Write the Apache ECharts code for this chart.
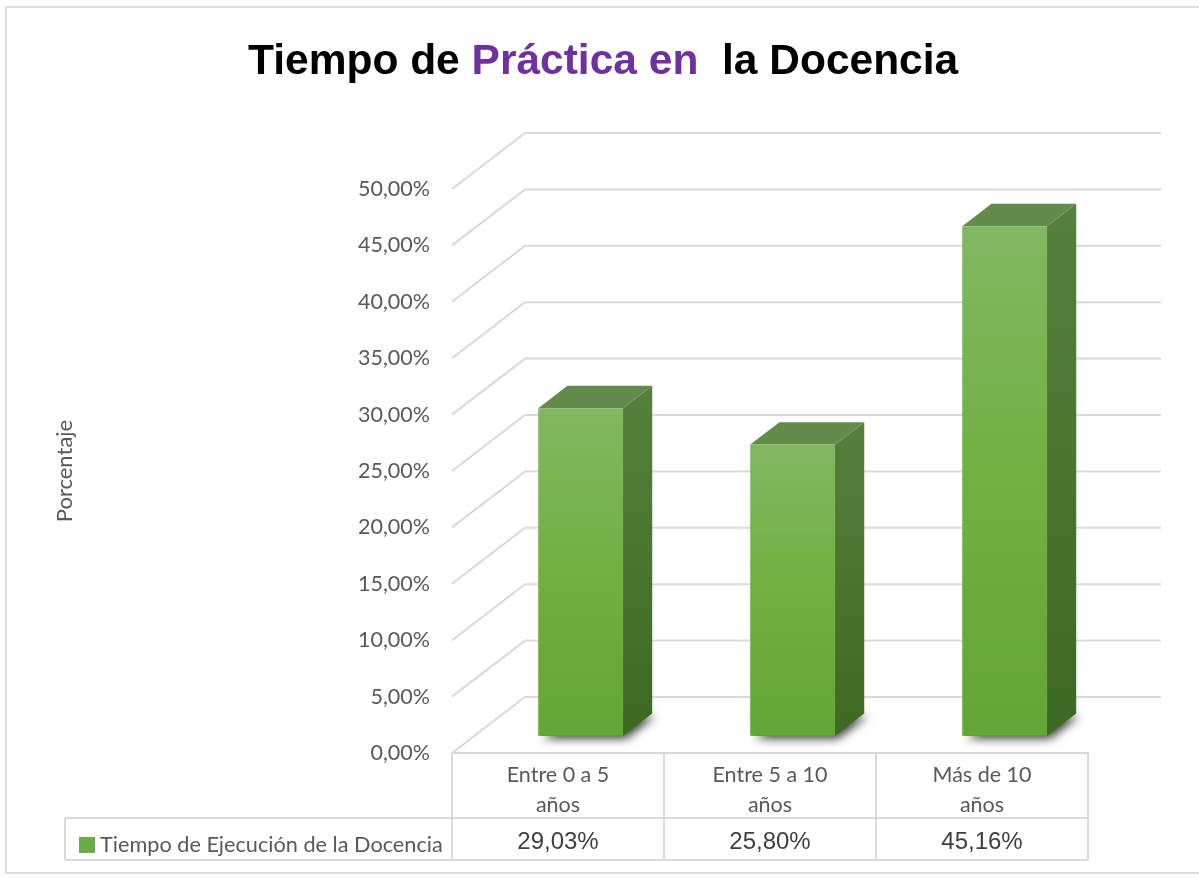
<!DOCTYPE html>
<html>
<head>
<meta charset="utf-8">
<title>Tiempo de Práctica en la Docencia</title>
<script src="https://cdn.jsdelivr.net/npm/echarts@6/dist/echarts.min.js"></script>
<style>
  html, body { margin: 0; padding: 0; background: #fff; }
  #chart { width: 1199px; height: 878px; }
</style>
</head>
<body>
<div id="chart"></div>
<script>
// data
const categories = ['Entre 0 a 5 años', 'Entre 5 a 10 años', 'Más de 10 años'];
const values = [29.03, 25.80, 45.16];
const yTicks = [0, 5, 10, 15, 20, 25, 30, 35, 40, 45, 50];
const seriesName = 'Tiempo de Ejecución de la Docencia';

// fake 3d perspective (pixels / fractions)
const DEPTH_X = 73;
const DEPTH_Y = -56;
const BAR_FRONT = 0.31;
const BAR_DEPTH = 0.4;
const BAR_WIDTH = 0.4;

const GRID = '#d9d9d9';
const TEXT = '#595959';

function pct(v) {
  return v.toFixed(2).replace('.', ',') + '%';
}

const chart = echarts.init(document.getElementById('chart'));

chart.setOption({
  backgroundColor: '#fff',
  animation: false,
  title: {
    left: 243,
    top: 36,
    text: '{a|Tiempo de }{b|Práctica en}{a|  la Docencia}',
    textStyle: {
      rich: {
        a: { fontFamily: 'Liberation Sans', fontWeight: 'bold', fontSize: 42.5, color: '#000' },
        b: { fontFamily: 'Liberation Sans', fontWeight: 'bold', fontSize: 42.5, color: '#7030a0' }
      }
    }
  },
  legend: {
    left: 74,
    top: 829,
    icon: 'rect',
    itemWidth: 16,
    itemHeight: 16,
    itemGap: 4,
    textStyle: { fontFamily: 'Lato', fontSize: 21.7, color: TEXT },
    data: [seriesName]
  },
  grid: { left: 452, top: 189, width: 636, height: 564 },
  xAxis: [
    {
      type: 'category',
      data: categories,
      axisLine: { lineStyle: { color: GRID, width: 2 } },
      axisTick: { show: true, length: 107, lineStyle: { color: GRID, width: 2 } },
      axisLabel: {
        margin: 7,
        fontFamily: 'Lato',
        fontSize: 21.5,
        lineHeight: 30,
        color: TEXT,
        formatter: v => v.replace(' años', '\naños')
      },
      splitLine: { show: false }
    },
    {
      type: 'category',
      position: 'bottom',
      data: values.map(pct),
      axisLine: { show: false },
      axisTick: { show: false },
      axisLabel: {
        margin: 77,
        fontFamily: 'Liberation Sans',
        fontSize: 24,
        color: '#404040'
      }
    }
  ],
  yAxis: {
    type: 'value',
    min: 0,
    max: 50,
    interval: 5,
    name: 'Porcentaje',
    nameLocation: 'middle',
    nameGap: 376,
    nameTextStyle: { fontFamily: 'Lato', fontSize: 22, color: TEXT },
    axisLine: { show: false },
    axisTick: { show: false },
    splitLine: { show: false },
    axisLabel: {
      margin: 22,
      fontFamily: 'Lato',
      fontSize: 21.5,
      color: TEXT,
      formatter: v => pct(v)
    }
  },
  graphic: [
    { type: 'rect', shape: { x: 6, y: 7, width: 1200, height: 866 }, style: { fill: 'none', stroke: '#dedede', lineWidth: 2 }, silent: true, z: -10 },
    { type: 'line', shape: { x1: 65, y1: 818, x2: 1088, y2: 818 }, style: { stroke: GRID, lineWidth: 2 }, silent: true },
    { type: 'line', shape: { x1: 65, y1: 860, x2: 1088, y2: 860 }, style: { stroke: GRID, lineWidth: 2 }, silent: true },
    { type: 'line', shape: { x1: 65, y1: 818, x2: 65, y2: 860 }, style: { stroke: GRID, lineWidth: 2 }, silent: true }
  ],
  series: [
    {
      // side wall + back wall gridlines
      type: 'custom',
      silent: true,
      z: 1,
      data: yTicks.map(v => [0, v]),
      renderItem(params, api) {
        const cs = params.coordSys;
        const y = api.coord([0, api.value(1)])[1];
        const x0 = cs.x, x1 = cs.x + cs.width;
        return {
          type: 'polyline',
          shape: { points: [[x0, y], [x0 + DEPTH_X, y + DEPTH_Y], [x1 + DEPTH_X, y + DEPTH_Y]] },
          style: { stroke: GRID, lineWidth: 2, fill: null }
        };
      }
    },
    {
      name: seriesName,
      type: 'custom',
      z: 3,
      itemStyle: { color: '#6aac43' },
      data: values.map((v, i) => [i, v]),
      renderItem(params, api) {
        const base = api.coord([api.value(0), 0]);
        const top = api.coord([api.value(0), api.value(1)]);
        const w = api.size([1, 0])[0] * BAR_WIDTH;
        const ox = DEPTH_X * BAR_FRONT, oy = DEPTH_Y * BAR_FRONT;
        const dx = DEPTH_X * BAR_DEPTH, dy = DEPTH_Y * BAR_DEPTH;
        const xl = base[0] - w / 2 + ox, xr = xl + w;
        const yb = base[1] + oy, yt = top[1] + oy;
        return {
          type: 'group',
          children: [
            {
              type: 'polygon',
              shape: { points: [[xl + 2, yb], [xr, yb], [xr + dx, yb + dy], [xl + dx, yb + dy]] },
              style: {
                fill: '#3f6b24',
                shadowBlur: 10,
                shadowOffsetX: 3,
                shadowOffsetY: 3,
                shadowColor: 'rgba(0,0,0,0.75)'
              }
            },
            {
              type: 'polygon',
              shape: { points: [[xr, yb], [xr + dx, yb + dy], [xr + dx, yt + dy], [xr, yt]] },
              style: {
                fill: new echarts.graphic.LinearGradient(0, 0, 0, 1, [
                  { offset: 0, color: '#55813c' },
                  { offset: 1, color: '#3d6a22' }
                ])
              }
            },
            {
              type: 'polygon',
              shape: { points: [[xl, yt], [xr, yt], [xr + dx, yt + dy], [xl + dx, yt + dy]] },
              style: { fill: '#638c4b' }
            },
            {
              type: 'rect',
              shape: { x: xl, y: yt, width: w, height: yb - yt },
              style: {
                fill: new echarts.graphic.LinearGradient(0, 0, 0, 1, [
                  { offset: 0, color: '#82b862' },
                  { offset: 0.5, color: '#70b040' },
                  { offset: 1, color: '#63a536' }
                ])
              }
            }
          ]
        };
      }
    }
  ]
});
</script>
</body>
</html>
